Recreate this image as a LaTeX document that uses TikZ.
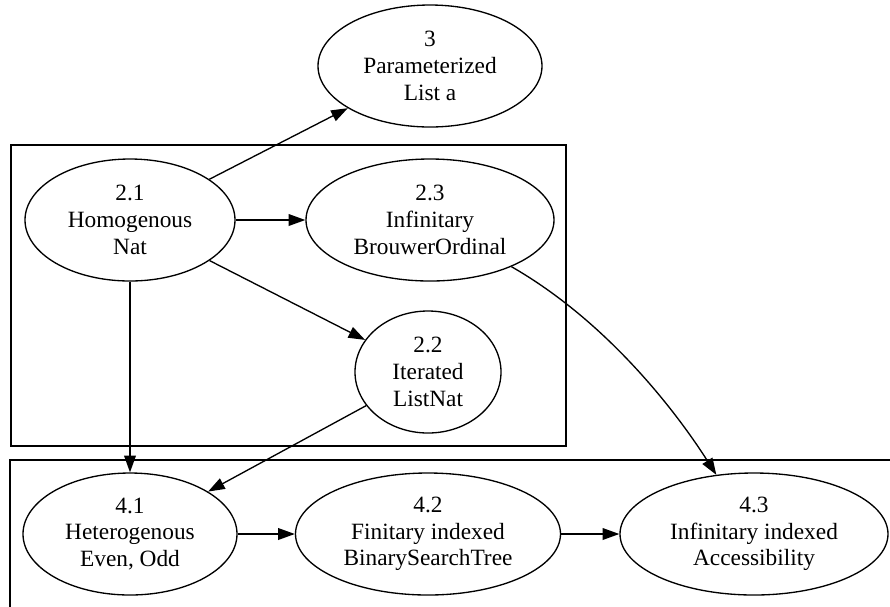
\documentclass[tikz,border=0pt]{standalone}
\usepackage{fontspec}
\setmainfont{Liberation Serif}
\usetikzlibrary{shapes.geometric,arrows.meta}
\tikzset{
  gvnode/.style={draw, ellipse, inner sep=0pt, minimum height=73.2pt, align=center,
    font=\fontsize{14pt}{16pt}\selectfont, line width=0.8pt},
  gvedge/.style={draw, line width=0.8pt, -{Triangle[length=10pt,width=7pt]}},
  cluster/.style={draw, line width=0.8pt}
}
\begin{document}
\begin{tikzpicture}[x=0.6pt,y=-0.6pt]
\useasboundingbox (0,0) rectangle (890,606);
\clip (0,0) rectangle (890,606);
% clusters
\draw[cluster] (11,145) rectangle (566,446);
\draw[cluster] (10,460) rectangle (920,640);
% nodes
\node[gvnode, minimum width=134.4pt] (n3)  at (430,66)  {3\\Parameterized\\List a};
\node[gvnode, minimum width=126pt]   (n21) at (130,220) {2.1\\Homogenous\\Nat};
\node[gvnode, minimum width=148.8pt] (n23) at (430,220) {2.3\\Infinitary\\BrouwerOrdinal};
\node[gvnode, minimum width=87.6pt]  (n22) at (428,372) {2.2\\Iterated\\ListNat};
\node[gvnode, minimum width=128.4pt] (n41) at (130,534) {4.1\\Heterogenous\\Even, Odd};
\node[gvnode, minimum width=159pt]   (n42) at (428,534) {4.2\\Finitary indexed\\BinarySearchTree};
\node[gvnode, minimum width=160.8pt] (n43) at (754,534) {4.3\\Infinitary indexed\\Accessibility};
% edges
\draw[gvedge] (n21) -- (n3);
\draw[gvedge] (n21) -- (n23);
\draw[gvedge] (n21) -- (n22);
\draw[gvedge] (n21) -- (n41);
\draw[gvedge] (n22) -- (n41);
\draw[gvedge] (n23) .. controls (608,322) and (677,413) .. (n43);
\draw[gvedge] (n41) -- (n42);
\draw[gvedge] (n42) -- (n43);
\end{tikzpicture}
\end{document}
